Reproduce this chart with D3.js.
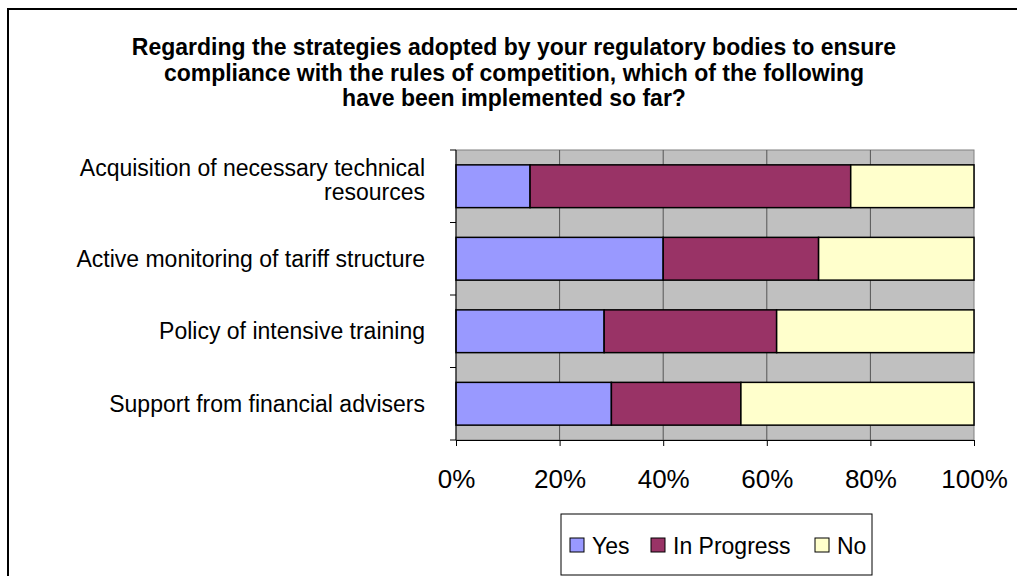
<!DOCTYPE html>
<html>
<head>
<meta charset="utf-8">
<style>
    body { margin: 0; background: #fff; }
    svg { display: block; font-family: Arial, "Liberation Sans", sans-serif; }
</style>
</head>
<body>
<svg width="1017" height="576"></svg>
<script src="https://d3js.org/d3.v7.min.js"></script>
<script>
    // survey answers, percent of respondents
    var categories = [
        "Acquisition of necessary technical resources",
        "Active monitoring of tariff structure",
        "Policy of intensive training",
        "Support from financial advisers"
    ];
    var seriesNames = ["Yes", "In Progress", "No"];
    var yesValues = [14.3, 40, 28.6, 30];
    var inProgressValues = [61.9, 30, 33.3, 25];
    var noValues = [23.8, 30, 38.1, 45];
    var xTicks = [0, 20, 40, 60, 80, 100];
    var titleLines = [
        "Regarding the strategies adopted by your regulatory bodies to ensure",
        "compliance with the rules of competition, which of the following",
        "have been implemented so far?"
    ];
    var colors = ["#9999ff", "#993366", "#ffffcc"];

    var svg = d3.select("svg");
    var plot = { left: 456, right: 974, top: 150, bottom: 440 };

    // outer chart frame (runs off the right and bottom edge)
    svg.append("rect")
        .attr("x", 8).attr("y", 9)
        .attr("width", 1030).attr("height", 600)
        .attr("fill", "#fff")
        .attr("stroke", "#000")
        .attr("stroke-width", 2);

    svg.append("g").selectAll("text")
        .data(titleLines)
        .enter().append("text")
        .attr("x", 514)
        .attr("y", function (d, i) { return 55 + i * 25.5; })
        .attr("text-anchor", "middle")
        .attr("font-weight", "bold")
        .attr("font-size", 23)
        .text(function (d) { return d; });

    var rows = categories.map(function (c, i) {
        return { cat: c, "Yes": yesValues[i], "In Progress": inProgressValues[i], "No": noValues[i] };
    });
    var stacked = d3.stack().keys(seriesNames)(rows);

    var x = d3.scaleLinear().domain([0, 100]).range([plot.left, plot.right]);
    var y = d3.scaleBand().domain(categories).range([plot.top, plot.bottom])
        .paddingInner(0.41).paddingOuter(0.205);

    svg.append("rect")
        .attr("x", plot.left).attr("y", plot.top)
        .attr("width", plot.right - plot.left).attr("height", plot.bottom - plot.top)
        .attr("fill", "#c0c0c0")
        .attr("stroke", "#808080");

    svg.append("g").selectAll("line")
        .data(xTicks.slice(1, -1))
        .enter().append("line")
        .attr("x1", function (d) { return x(d); }).attr("x2", function (d) { return x(d); })
        .attr("y1", plot.top).attr("y2", plot.bottom)
        .attr("stroke", "#555")
        .attr("stroke-width", 1);

    svg.append("g").selectAll("g")
        .data(stacked)
        .enter().append("g")
        .attr("fill", function (d, i) { return colors[i]; })
        .selectAll("rect")
        .data(function (d) { return d; })
        .enter().append("rect")
        .attr("x", function (d) { return x(d[0]); })
        .attr("y", function (d) { return y(d.data.cat); })
        .attr("width", function (d) { return x(d[1]) - x(d[0]); })
        .attr("height", y.bandwidth())
        .attr("stroke", "#000")
        .attr("stroke-width", 1.5);

    // x axis
    var xAxis = svg.append("g")
        .attr("transform", "translate(0," + plot.bottom + ")")
        .call(d3.axisBottom(x).tickValues(xTicks).tickSize(6)
            .tickFormat(function (d) { return d + "%"; }));
    xAxis.select(".domain").attr("stroke", "#000");
    xAxis.selectAll(".tick text")
        .attr("y", 48).attr("dy", null)
        .attr("font-size", 26).attr("fill", "#000")
        .attr("font-family", "Arial, 'Liberation Sans', sans-serif");

    // y axis: ticks between categories
    var boundaries = d3.range(categories.length + 1).map(function (i) {
        return plot.top + i * y.step();
    });
    svg.append("line")
        .attr("x1", plot.left).attr("x2", plot.left)
        .attr("y1", plot.top).attr("y2", plot.bottom)
        .attr("stroke", "#000");
    svg.append("g").selectAll("line")
        .data(boundaries)
        .enter().append("line")
        .attr("x1", plot.left - 6).attr("x2", plot.left)
        .attr("y1", function (d) { return d; }).attr("y2", function (d) { return d; })
        .attr("stroke", "#000");

    // category labels, wrapped
    var labels = svg.append("g").selectAll("text")
        .data(categories)
        .enter().append("text")
        .attr("text-anchor", "end")
        .attr("font-size", 23)
        .attr("fill", "#000");
    labels.each(function (d) {
        var t = d3.select(this);
        var words = d.split(" "), lines = [], cur = [];
        words.forEach(function (w) {
            cur.push(w);
            t.text(cur.join(" "));
            if (t.node().getComputedTextLength() > 375 && cur.length > 1) {
                cur.pop();
                lines.push(cur.join(" "));
                cur = [w];
            }
        });
        lines.push(cur.join(" "));
        t.text(null);
        var cy = y(d) + y.bandwidth() / 2;
        var shift = lines.length > 1 ? -6 : 0;
        lines.forEach(function (l, i) {
            t.append("tspan")
                .attr("x", 425)
                .attr("y", cy + 8 + shift + (i - (lines.length - 1) / 2) * 24)
                .text(l);
        });
    });

    // legend
    var legend = svg.append("g");
    legend.append("rect")
        .attr("x", 561).attr("y", 514)
        .attr("width", 311).attr("height", 61)
        .attr("fill", "#fff")
        .attr("stroke", "#000");
    var legendX = [570, 651, 815];
    var items = legend.selectAll("g.item")
        .data(seriesNames)
        .enter().append("g")
        .attr("class", "item")
        .attr("transform", function (d, i) { return "translate(" + legendX[i] + ",545)"; });
    items.append("rect")
        .attr("x", 0).attr("y", -7)
        .attr("width", 14).attr("height", 14)
        .attr("fill", function (d, i) { return colors[i]; })
        .attr("stroke", "#000");
    items.append("text")
        .attr("x", 22).attr("y", 8.5)
        .attr("font-size", 23)
        .text(function (d) { return d; });
</script>
</body>
</html>
